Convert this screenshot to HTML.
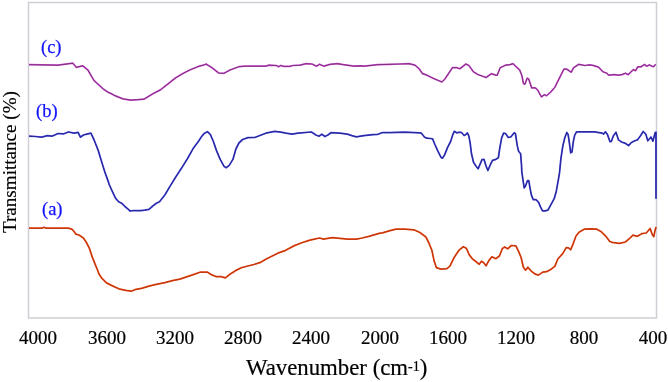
<!DOCTYPE html>
<html><head><meta charset="utf-8"><style>
html,body{margin:0;padding:0;background:#fff;}
body{width:668px;height:382px;position:relative;overflow:hidden;font-family:"Liberation Serif",serif;}
.tk,.lab,.yl,.xt{will-change:transform;}
svg{position:absolute;left:0;top:0;}
.tk{position:absolute;top:325.5px;width:80px;text-align:center;font-size:19px;line-height:24px;color:#000;-webkit-text-stroke:0.2px #000;}
.lab{position:absolute;color:#1414ff;font-size:18.5px;line-height:22px;-webkit-text-stroke:0.25px #1414ff;}
.yl{position:absolute;left:-60px;top:151.8px;width:140px;height:22px;line-height:22px;font-size:19.1px;text-align:center;transform:rotate(-90deg);color:#000;-webkit-text-stroke:0.2px #000;white-space:nowrap;}
.xt{position:absolute;left:245.5px;top:354.3px;font-size:22.8px;line-height:28px;color:#000;-webkit-text-stroke:0.2px #000;white-space:nowrap;}
.xt sup{font-size:14px;vertical-align:0;position:relative;top:-4px;margin-left:0px;}
</style></head><body>
<svg width="668" height="382" viewBox="0 0 668 382">
<rect x="28.5" y="2.5" width="628" height="315.5" fill="none" stroke="#cfcfd5" stroke-width="1.5"/>
<polyline points="29.0,64.7 43.0,64.9 58.0,65.2 72.9,63.2 76.2,67.3 82.6,65.8 87.9,70.0 93.9,80.4 102.9,88.7 108.0,92.2 111.8,93.9 115.5,95.9 123.0,98.9 130.5,100.1 138.0,99.7 143.9,99.2 152.9,93.7 160.4,89.9 167.9,84.0 175.4,78.0 182.9,73.5 190.3,69.7 197.8,66.7 205.3,64.5 206.0,64.0 212.0,67.7 218.7,73.0 224.0,73.3 230.0,70.0 238.9,66.7 244.9,66.2 265.9,66.2 268.9,65.2 276.3,65.5 278.6,66.7 280.8,65.5 283.8,66.4 289.8,66.4 292.8,65.5 300.0,65.2 306.0,63.7 312.0,64.0 316.5,66.2 319.5,64.3 324.0,66.2 330.0,64.3 337.4,63.7 343.4,64.7 353.9,66.2 359.9,65.8 364.4,66.1 377.8,64.7 389.8,64.3 400.0,64.0 409.0,63.7 415.0,65.2 419.5,69.2 422.5,73.7 427.0,75.2 433.0,78.2 441.9,82.0 444.9,79.0 452.4,67.7 456.9,67.7 459.9,68.8 465.9,64.0 468.9,65.5 473.4,71.8 477.8,74.5 486.1,77.5 491.3,73.7 495.8,75.2 497.2,75.2 500.2,67.7 505.5,65.2 510.0,64.7 513.0,63.7 515.2,65.8 519.7,70.0 522.0,76.0 523.4,83.4 524.9,84.2 527.2,78.2 528.7,79.0 531.7,87.9 535.4,87.9 537.7,90.2 541.4,96.9 544.4,94.7 546.6,95.7 550.4,92.4 554.9,87.2 559.4,78.2 563.9,69.2 566.9,69.2 571.3,72.2 573.6,67.7 578.8,64.3 584.8,65.5 589.5,64.9 592.9,65.3 598.5,67.1 603.0,71.8 606.9,73.2 608.6,75.2 614.2,74.6 618.7,75.2 622.0,74.6 625.4,73.2 628.2,74.6 633.3,69.6 635.5,70.7 637.8,66.8 641.1,66.8 644.5,64.5 646.7,66.2 649.0,64.9 653.5,66.8 655.7,64.2" fill="none" stroke="#cc4ed0" stroke-width="1.75" stroke-linejoin="round"/>
<polyline points="29.0,64.7 43.0,64.9 58.0,65.2 72.9,63.2 76.2,67.3 82.6,65.8 87.9,70.0 93.9,80.4 102.9,88.7 108.0,92.2 111.8,93.9 115.5,95.9 123.0,98.9 130.5,100.1 138.0,99.7 143.9,99.2 152.9,93.7 160.4,89.9 167.9,84.0 175.4,78.0 182.9,73.5 190.3,69.7 197.8,66.7 205.3,64.5 206.0,64.0 212.0,67.7 218.7,73.0 224.0,73.3 230.0,70.0 238.9,66.7 244.9,66.2 265.9,66.2 268.9,65.2 276.3,65.5 278.6,66.7 280.8,65.5 283.8,66.4 289.8,66.4 292.8,65.5 300.0,65.2 306.0,63.7 312.0,64.0 316.5,66.2 319.5,64.3 324.0,66.2 330.0,64.3 337.4,63.7 343.4,64.7 353.9,66.2 359.9,65.8 364.4,66.1 377.8,64.7 389.8,64.3 400.0,64.0 409.0,63.7 415.0,65.2 419.5,69.2 422.5,73.7 427.0,75.2 433.0,78.2 441.9,82.0 444.9,79.0 452.4,67.7 456.9,67.7 459.9,68.8 465.9,64.0 468.9,65.5 473.4,71.8 477.8,74.5 486.1,77.5 491.3,73.7 495.8,75.2 497.2,75.2 500.2,67.7 505.5,65.2 510.0,64.7 513.0,63.7 515.2,65.8 519.7,70.0 522.0,76.0 523.4,83.4 524.9,84.2 527.2,78.2 528.7,79.0 531.7,87.9 535.4,87.9 537.7,90.2 541.4,96.9 544.4,94.7 546.6,95.7 550.4,92.4 554.9,87.2 559.4,78.2 563.9,69.2 566.9,69.2 571.3,72.2 573.6,67.7 578.8,64.3 584.8,65.5 589.5,64.9 592.9,65.3 598.5,67.1 603.0,71.8 606.9,73.2 608.6,75.2 614.2,74.6 618.7,75.2 622.0,74.6 625.4,73.2 628.2,74.6 633.3,69.6 635.5,70.7 637.8,66.8 641.1,66.8 644.5,64.5 646.7,66.2 649.0,64.9 653.5,66.8 655.7,64.2" fill="none" stroke="#3a103a" stroke-width="0.9" stroke-opacity="0.6" stroke-linejoin="round"/>
<polyline points="29.0,136.2 35.5,136.5 41.5,137.2 47.5,135.7 52.0,136.2 58.0,133.5 63.9,133.8 68.4,132.0 74.4,133.2 78.1,132.3 80.4,137.2 83.4,135.0 87.9,133.8 90.9,133.2 93.9,139.5 96.0,144.8 98.4,150.9 101.0,159.7 104.7,171.6 108.3,181.6 109.2,184.5 112.3,191.3 115.5,198.1 118.6,201.8 121.8,203.3 124.9,206.5 128.1,209.1 130.1,211.0 133.3,210.5 136.4,210.7 140.6,210.7 144.8,210.1 149.0,209.3 152.2,206.5 156.3,203.3 159.5,201.8 165.0,194.8 170.1,186.1 175.9,176.7 181.6,168.1 187.4,158.7 193.1,148.6 198.9,140.7 201.5,136.6 204.5,133.2 207.5,131.7 210.4,134.7 213.4,141.5 216.4,150.4 220.2,159.4 223.9,166.2 226.2,167.7 229.2,165.4 232.9,159.4 235.9,149.0 238.9,143.0 242.6,139.5 247.9,137.7 255.4,137.3 259.9,135.5 265.8,133.2 274.8,131.3 280.8,132.2 286.0,133.2 292.0,134.2 298.0,133.2 311.4,132.0 315.9,135.0 318.9,136.2 321.9,134.2 324.9,136.5 327.9,135.0 330.9,132.7 339.9,133.2 347.4,134.2 351.9,135.7 356.3,136.8 363.8,135.7 372.8,134.7 378.0,134.3 382.5,132.5 390.0,132.5 404.9,132.2 419.9,132.8 421.4,133.2 424.4,137.0 426.6,138.2 430.4,138.5 432.6,138.8 434.9,144.5 437.9,151.2 440.9,157.2 442.4,158.2 444.6,154.9 447.6,147.4 450.6,141.5 452.8,134.7 454.3,131.3 456.6,132.8 460.3,132.2 461.8,132.8 464.1,135.5 465.6,134.7 467.4,133.0 468.9,136.1 470.2,143.3 471.5,153.8 473.5,162.3 476.1,166.2 478.1,168.8 480.0,164.3 482.0,159.7 484.0,159.3 485.9,165.6 487.9,170.5 490.5,164.3 492.5,160.3 495.1,159.7 498.4,157.7 499.7,148.6 501.6,138.1 503.6,133.1 505.6,133.5 508.2,137.4 510.8,137.0 514.1,132.9 515.4,133.5 517.3,145.9 518.6,151.2 520.6,153.8 521.5,165.0 521.8,171.6 522.9,179.4 524.2,187.9 525.5,186.0 527.4,180.7 528.8,180.7 530.1,188.6 531.4,195.1 533.3,199.7 536.0,199.7 538.6,202.3 540.5,206.9 542.5,210.9 545.1,210.9 547.8,210.2 550.4,205.6 554.3,198.4 556.3,191.2 558.2,180.7 559.5,172.9 560.9,158.7 562.9,145.6 564.8,137.7 566.8,132.5 568.1,134.4 569.4,143.0 570.7,152.8 572.0,152.1 573.3,141.7 574.7,135.1 576.6,131.8 583.8,131.8 594.3,131.8 602.2,133.1 603.5,134.1 605.4,131.8 607.4,134.4 610.0,141.7 611.3,141.5 613.3,136.0 616.0,132.2 618.5,139.9 621.6,142.0 624.8,143.1 628.6,145.6 631.1,142.7 634.2,141.0 637.4,139.9 640.5,135.7 643.2,131.5 645.8,134.2 647.8,140.8 651.0,137.0 652.9,141.2 655.2,132.5 656.0,132.2 656.0,198.7" fill="none" stroke="#3a3ad8" stroke-width="1.75" stroke-linejoin="round"/>
<polyline points="29.0,136.2 35.5,136.5 41.5,137.2 47.5,135.7 52.0,136.2 58.0,133.5 63.9,133.8 68.4,132.0 74.4,133.2 78.1,132.3 80.4,137.2 83.4,135.0 87.9,133.8 90.9,133.2 93.9,139.5 96.0,144.8 98.4,150.9 101.0,159.7 104.7,171.6 108.3,181.6 109.2,184.5 112.3,191.3 115.5,198.1 118.6,201.8 121.8,203.3 124.9,206.5 128.1,209.1 130.1,211.0 133.3,210.5 136.4,210.7 140.6,210.7 144.8,210.1 149.0,209.3 152.2,206.5 156.3,203.3 159.5,201.8 165.0,194.8 170.1,186.1 175.9,176.7 181.6,168.1 187.4,158.7 193.1,148.6 198.9,140.7 201.5,136.6 204.5,133.2 207.5,131.7 210.4,134.7 213.4,141.5 216.4,150.4 220.2,159.4 223.9,166.2 226.2,167.7 229.2,165.4 232.9,159.4 235.9,149.0 238.9,143.0 242.6,139.5 247.9,137.7 255.4,137.3 259.9,135.5 265.8,133.2 274.8,131.3 280.8,132.2 286.0,133.2 292.0,134.2 298.0,133.2 311.4,132.0 315.9,135.0 318.9,136.2 321.9,134.2 324.9,136.5 327.9,135.0 330.9,132.7 339.9,133.2 347.4,134.2 351.9,135.7 356.3,136.8 363.8,135.7 372.8,134.7 378.0,134.3 382.5,132.5 390.0,132.5 404.9,132.2 419.9,132.8 421.4,133.2 424.4,137.0 426.6,138.2 430.4,138.5 432.6,138.8 434.9,144.5 437.9,151.2 440.9,157.2 442.4,158.2 444.6,154.9 447.6,147.4 450.6,141.5 452.8,134.7 454.3,131.3 456.6,132.8 460.3,132.2 461.8,132.8 464.1,135.5 465.6,134.7 467.4,133.0 468.9,136.1 470.2,143.3 471.5,153.8 473.5,162.3 476.1,166.2 478.1,168.8 480.0,164.3 482.0,159.7 484.0,159.3 485.9,165.6 487.9,170.5 490.5,164.3 492.5,160.3 495.1,159.7 498.4,157.7 499.7,148.6 501.6,138.1 503.6,133.1 505.6,133.5 508.2,137.4 510.8,137.0 514.1,132.9 515.4,133.5 517.3,145.9 518.6,151.2 520.6,153.8 521.5,165.0 521.8,171.6 522.9,179.4 524.2,187.9 525.5,186.0 527.4,180.7 528.8,180.7 530.1,188.6 531.4,195.1 533.3,199.7 536.0,199.7 538.6,202.3 540.5,206.9 542.5,210.9 545.1,210.9 547.8,210.2 550.4,205.6 554.3,198.4 556.3,191.2 558.2,180.7 559.5,172.9 560.9,158.7 562.9,145.6 564.8,137.7 566.8,132.5 568.1,134.4 569.4,143.0 570.7,152.8 572.0,152.1 573.3,141.7 574.7,135.1 576.6,131.8 583.8,131.8 594.3,131.8 602.2,133.1 603.5,134.1 605.4,131.8 607.4,134.4 610.0,141.7 611.3,141.5 613.3,136.0 616.0,132.2 618.5,139.9 621.6,142.0 624.8,143.1 628.6,145.6 631.1,142.7 634.2,141.0 637.4,139.9 640.5,135.7 643.2,131.5 645.8,134.2 647.8,140.8 651.0,137.0 652.9,141.2 655.2,132.5 656.0,132.2 656.0,198.7" fill="none" stroke="#1a1a5a" stroke-width="1" stroke-opacity="0.55" stroke-linejoin="round"/>
<polyline points="29.0,228.2 42.0,228.2 44.0,227.3 46.0,228.2 68.4,228.2 72.2,229.3 74.4,232.0 75.9,234.2 78.9,235.0 83.4,238.0 86.4,242.5 89.4,248.4 92.4,257.4 95.4,264.9 96.9,268.5 99.0,274.0 102.0,278.4 106.5,282.9 112.5,285.9 119.9,289.2 125.9,290.4 131.2,291.2 134.9,289.7 142.4,288.2 149.9,285.9 157.4,284.1 164.9,282.6 172.3,280.7 179.8,279.2 187.3,276.6 192.5,274.9 200.0,272.2 207.5,272.2 211.9,274.9 216.4,276.7 220.9,276.7 225.4,277.9 229.9,274.2 235.9,270.4 241.9,267.5 247.9,266.0 253.9,264.5 259.9,262.7 265.8,259.2 271.8,256.2 277.8,253.2 285.0,250.7 287.5,249.2 295.0,245.4 302.5,242.5 309.9,240.2 314.4,239.2 319.7,238.0 323.4,239.2 327.9,238.3 332.4,237.7 339.9,238.3 347.4,239.2 356.3,239.2 362.3,238.0 369.8,236.2 380.0,233.2 382.5,232.8 390.0,230.7 396.0,229.2 404.9,229.2 413.9,229.8 419.9,232.5 425.9,237.0 428.9,243.0 431.9,250.4 434.1,260.9 436.4,267.7 440.9,269.2 446.9,268.7 449.9,266.2 454.3,257.2 458.8,250.4 463.3,246.7 466.3,248.2 469.3,254.9 472.3,258.7 475.5,261.2 479.2,264.2 481.5,261.2 483.7,262.7 486.0,265.7 489.0,260.4 491.9,256.7 495.7,258.7 499.4,256.0 502.4,248.5 504.7,247.0 507.7,248.8 511.4,245.5 515.9,245.8 518.9,252.2 521.1,257.5 523.4,267.2 525.6,270.2 527.9,267.2 530.9,270.9 535.4,274.2 538.4,275.1 542.8,272.1 546.6,271.7 550.3,269.7 554.8,266.4 557.8,259.0 562.5,253.9 566.2,247.6 568.5,247.9 570.7,249.7 573.0,244.2 576.0,236.0 579.0,232.2 584.2,229.2 590.9,228.8 596.9,229.2 601.4,231.8 605.9,236.3 609.6,241.2 611.9,242.3 619.4,243.4 625.4,242.0 629.9,238.2 632.9,235.2 637.3,236.3 641.8,233.7 646.3,233.0 650.1,228.5 652.3,234.5 653.8,236.7 655.0,230.7 656.0,227.0" fill="none" stroke="#e8440f" stroke-width="1.75" stroke-linejoin="round"/>
<polyline points="29.0,228.2 42.0,228.2 44.0,227.3 46.0,228.2 68.4,228.2 72.2,229.3 74.4,232.0 75.9,234.2 78.9,235.0 83.4,238.0 86.4,242.5 89.4,248.4 92.4,257.4 95.4,264.9 96.9,268.5 99.0,274.0 102.0,278.4 106.5,282.9 112.5,285.9 119.9,289.2 125.9,290.4 131.2,291.2 134.9,289.7 142.4,288.2 149.9,285.9 157.4,284.1 164.9,282.6 172.3,280.7 179.8,279.2 187.3,276.6 192.5,274.9 200.0,272.2 207.5,272.2 211.9,274.9 216.4,276.7 220.9,276.7 225.4,277.9 229.9,274.2 235.9,270.4 241.9,267.5 247.9,266.0 253.9,264.5 259.9,262.7 265.8,259.2 271.8,256.2 277.8,253.2 285.0,250.7 287.5,249.2 295.0,245.4 302.5,242.5 309.9,240.2 314.4,239.2 319.7,238.0 323.4,239.2 327.9,238.3 332.4,237.7 339.9,238.3 347.4,239.2 356.3,239.2 362.3,238.0 369.8,236.2 380.0,233.2 382.5,232.8 390.0,230.7 396.0,229.2 404.9,229.2 413.9,229.8 419.9,232.5 425.9,237.0 428.9,243.0 431.9,250.4 434.1,260.9 436.4,267.7 440.9,269.2 446.9,268.7 449.9,266.2 454.3,257.2 458.8,250.4 463.3,246.7 466.3,248.2 469.3,254.9 472.3,258.7 475.5,261.2 479.2,264.2 481.5,261.2 483.7,262.7 486.0,265.7 489.0,260.4 491.9,256.7 495.7,258.7 499.4,256.0 502.4,248.5 504.7,247.0 507.7,248.8 511.4,245.5 515.9,245.8 518.9,252.2 521.1,257.5 523.4,267.2 525.6,270.2 527.9,267.2 530.9,270.9 535.4,274.2 538.4,275.1 542.8,272.1 546.6,271.7 550.3,269.7 554.8,266.4 557.8,259.0 562.5,253.9 566.2,247.6 568.5,247.9 570.7,249.7 573.0,244.2 576.0,236.0 579.0,232.2 584.2,229.2 590.9,228.8 596.9,229.2 601.4,231.8 605.9,236.3 609.6,241.2 611.9,242.3 619.4,243.4 625.4,242.0 629.9,238.2 632.9,235.2 637.3,236.3 641.8,233.7 646.3,233.0 650.1,228.5 652.3,234.5 653.8,236.7 655.0,230.7 656.0,227.0" fill="none" stroke="#701a08" stroke-width="0.9" stroke-opacity="0.4" stroke-linejoin="round"/>
</svg>
<div class="lab" style="left:40.5px;top:36px">(c)</div>
<div class="lab" style="left:35.7px;top:100px">(b)</div>
<div class="lab" style="left:41.5px;top:198px">(a)</div>
<div class="yl">Transmittance (%)</div>
<div class="tk" style="left:-1.6px">4000</div><div class="tk" style="left:66.7px">3600</div><div class="tk" style="left:134.9px">3200</div><div class="tk" style="left:203.2px">2800</div><div class="tk" style="left:271.4px">2400</div><div class="tk" style="left:339.6px">2000</div><div class="tk" style="left:407.9px">1600</div><div class="tk" style="left:476.1px">1200</div><div class="tk" style="left:544.4px">800</div><div class="tk" style="left:612.6px">400</div>
<div class="xt">Wavenumber (cm<sup>-1</sup>)</div>
</body></html>
